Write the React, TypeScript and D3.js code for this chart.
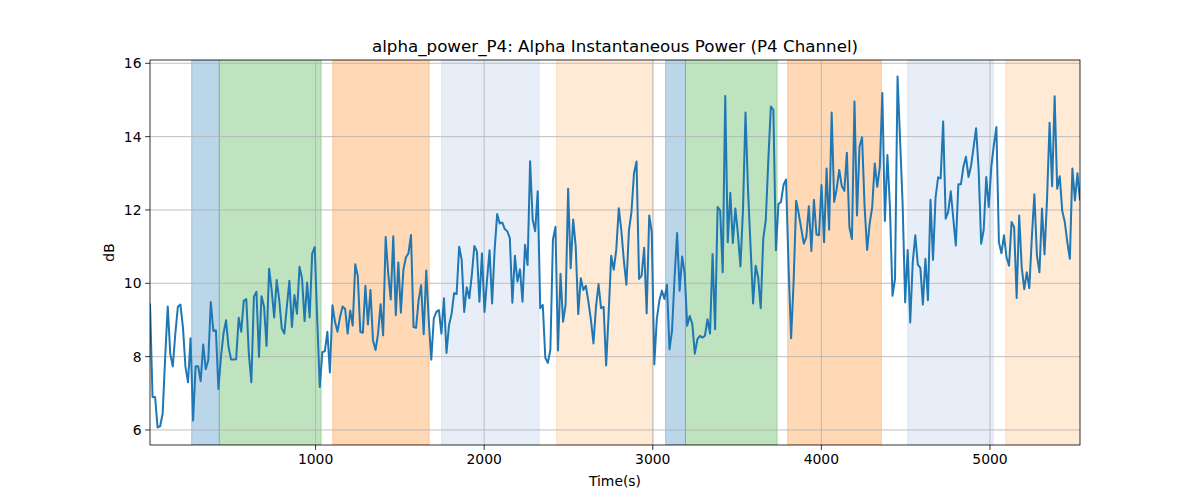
import * as d3 from "d3";

// alpha power samples (dB), evenly spaced over the recording
const alphaPower: number[] = [
  // ~18 - 700 s
  9.45, 6.9, 6.9, 6.07, 6.1, 6.45, 8.0, 9.37, 8.08, 7.73, 8.63, 9.36, 9.42, 8.8, 7.72, 7.3,
  8.5, 6.26, 7.74, 7.74, 7.33, 8.33, 7.66, 7.9, 9.49, 8.7, 8.72, 7.12, 7.99, 8.63, 8.99, 8.26,
  7.92, 7.92, 7.93, 9.06, 8.68, 9.52, 9.57, 8.08, 7.3, 9.63, 9.77, 7.99, 9.65, 9.37,
  // ~700 - 1380 s
  8.29, 10.4, 9.82, 9.07, 10.09, 9.54, 8.77, 8.63, 9.36, 10.07, 8.81, 9.68, 9.17, 10.45, 10.13, 8.97,
  10.02, 9.07, 10.81, 10.99, 9.0, 7.17, 8.12, 8.15, 8.68, 7.57, 9.4, 8.95, 8.68, 9.08, 9.37, 9.3,
  8.63, 9.26, 8.85, 10.52, 10.2, 8.67, 8.65, 9.93, 8.88, 9.82, 8.45, 8.18, 8.63, 9.43,
  // ~1390 - 2070 s
  8.58, 11.26, 10.27, 9.56, 11.28, 9.13, 10.57, 9.2, 10.37, 10.71, 10.82, 11.32, 8.81, 8.79, 9.54, 9.95,
  8.61, 10.35, 9.0, 7.92, 9.04, 9.22, 9.27, 8.63, 9.59, 8.1, 8.86, 9.16, 9.73, 9.71, 11.0, 10.64,
  9.22, 9.89, 9.59, 10.23, 11.02, 10.87, 9.5, 10.82, 9.22, 10.09, 10.9, 9.45, 10.91, 11.89,
  // ~2080 - 2780 s
  11.63, 11.66, 11.48, 11.42, 11.23, 9.47, 10.75, 10.05, 10.38, 9.5, 11.05, 10.5, 13.33, 11.74, 11.42, 12.51,
  9.32, 9.41, 7.97, 7.83, 8.19, 11.19, 11.54, 8.17, 10.26, 8.95, 9.41, 12.58, 10.41, 11.74, 11.0, 9.16,
  10.14, 9.82, 9.93, 9.5, 9.0, 8.36, 9.36, 9.98, 9.32, 9.36, 7.76, 9.18, 10.75, 10.37, 10.91, 12.05,
  // ~2800 - 3480 s
  11.44, 10.62, 9.96, 11.44, 11.95, 13.0, 13.32, 10.12, 10.21, 10.97, 9.18, 11.85, 11.4, 7.79, 9.02, 9.53,
  9.8, 9.57, 9.96, 8.2, 8.7, 10.16, 11.37, 9.8, 10.73, 10.26, 8.84, 9.11, 8.89, 8.08, 8.47, 8.57,
  8.52, 8.57, 9.02, 8.63, 10.8, 8.75, 12.08, 11.99, 10.3, 15.11, 11.12, 12.47, 11.1, 12.04,
  // ~3490 - 4170 s
  11.35, 10.46, 11.99, 14.66, 12.54, 10.99, 9.45, 10.48, 10.16, 9.32, 11.21, 11.72, 13.36, 14.82, 14.73, 10.9,
  12.16, 12.22, 12.68, 12.83, 10.44, 8.5, 10.07, 12.25, 11.9, 11.49, 11.08, 11.26, 12.1, 10.88, 12.28, 11.33,
  11.31, 12.68, 11.12, 13.13, 11.46, 14.66, 12.22, 12.58, 13.09, 12.65, 12.52, 13.56, 11.53, 11.21,
  // ~4190 - 4860 s
  14.96, 11.85, 13.73, 13.98, 12.08, 10.91, 11.63, 12.08, 13.27, 12.63, 13.18, 15.19, 11.7, 13.5, 12.08, 9.66,
  10.12, 15.64, 13.91, 12.17, 9.48, 10.91, 8.93, 10.58, 11.31, 10.51, 10.42, 9.42, 10.67, 9.54, 12.28, 10.64,
  12.34, 12.89, 12.86, 14.41, 11.76, 11.95, 12.51, 11.76, 11.03, 12.7, 12.7, 13.18, 13.45, 12.9,
  // ~4880 - 5534 s
  13.2, 13.71, 14.23, 13.09, 11.08, 11.46, 12.9, 12.08, 13.18, 13.77, 14.26, 11.12, 10.82, 11.31, 10.71, 10.48,
  11.67, 11.53, 9.6, 11.85, 10.44, 9.84, 10.3, 9.87, 11.26, 12.43, 10.76, 10.3, 12.04, 10.79, 12.31, 14.38,
  12.65, 15.1, 12.58, 12.92, 11.97, 11.67, 11.12, 10.67, 13.13, 12.26, 13.0, 12.26,
];

const T_START = 18;
const T_END = 5534;

// shaded condition periods (s)
const bandStarts = [265, 429, 1102, 1747, 2429, 3076, 3194, 3800, 4512, 5093];
const bandEnds = [429, 1033, 1674, 2326, 3005, 3194, 3738, 4356, 5020, 5600];
const bandKinds = ["a", "b", "c", "d", "e", "a", "b", "c", "d", "e"];

const xTicks = [1000, 2000, 3000, 4000, 5000];
const yTicks = [6, 8, 10, 12, 14, 16];

const kindColor: Record<string, string> = {
  a: "#1f77b4",
  b: "#2ca02c",
  c: "#ff7f0e",
  d: "#aec7e8",
  e: "#ffbb78",
};

const W = 1200;
const H = 500;
const M = { left: 150, right: 1080, top: 60, bottom: 445 };
const FONT = "DejaVu Sans, sans-serif";

export default function App() {
  const x = d3.scaleLinear().domain([T_START, T_END]).range([M.left, M.right]);
  const y = d3.scaleLinear().domain([5.59, 16.09]).range([M.bottom, M.top]);

  const n = alphaPower.length;
  const pts: [number, number][] = alphaPower.map((v, i) => [
    T_START + (i * (T_END - T_START)) / (n - 1),
    v,
  ]);

  const line = d3
    .line<[number, number]>()
    .x((d) => x(d[0]))
    .y((d) => y(d[1]));

  return (
    <div style={{ position: "absolute", left: 0, top: 0 }}>
      <svg width={W} height={H} style={{ display: "block", background: "#fff" }} fontFamily={FONT}>
        <defs>
          <clipPath id="plot">
            <rect x={M.left} y={M.top} width={M.right - M.left} height={M.bottom - M.top} />
          </clipPath>
        </defs>

        {/* bands */}
        <g clipPath="url(#plot)">
          {bandStarts.map((s, i) => (
            <rect
              key={i}
              x={x(s)}
              y={M.top}
              width={x(bandEnds[i]) - x(s)}
              height={M.bottom - M.top}
              fill={kindColor[bandKinds[i]]}
              fillOpacity={0.3}
              stroke={kindColor[bandKinds[i]]}
              strokeOpacity={0.3}
              strokeWidth={1}
            />
          ))}
        </g>

        {/* grid */}
        <g stroke="#b0b0b0" strokeWidth={0.8}>
          {xTicks.map((t) => (
            <line key={t} x1={x(t)} x2={x(t)} y1={M.top} y2={M.bottom} />
          ))}
          {yTicks.map((t) => (
            <line key={t} x1={M.left} x2={M.right} y1={y(t)} y2={y(t)} />
          ))}
        </g>

        {/* data */}
        <path
          d={line(pts) ?? ""}
          fill="none"
          stroke="#1f77b4"
          strokeWidth={2}
          strokeLinejoin="round"
          clipPath="url(#plot)"
        />

        {/* axes frame */}
        <rect
          x={M.left}
          y={M.top}
          width={M.right - M.left}
          height={M.bottom - M.top}
          fill="none"
          stroke="#000"
          strokeWidth={0.8}
        />

        {/* x ticks */}
        {xTicks.map((t) => (
          <g key={t} transform={`translate(${x(t)},${M.bottom})`}>
            <line y2={4.9} stroke="#000" strokeWidth={0.8} />
            <text y={18.5} textAnchor="middle" fontSize={13.9} fill="#000">
              {t}
            </text>
          </g>
        ))}

        {/* y ticks */}
        {yTicks.map((t) => (
          <g key={t} transform={`translate(${M.left},${y(t)})`}>
            <line x2={-4.9} stroke="#000" strokeWidth={0.8} />
            <text x={-8.5} dy="0.35em" textAnchor="end" fontSize={13.9} fill="#000">
              {t}
            </text>
          </g>
        ))}

        <text x={(M.left + M.right) / 2} y={52} textAnchor="middle" fontSize={16.7} fill="#000">
          alpha_power_P4: Alpha Instantaneous Power (P4 Channel)
        </text>
        <text x={(M.left + M.right) / 2} y={486} textAnchor="middle" fontSize={13.9} fill="#000">
          Time(s)
        </text>
        <text
          transform={`translate(114,${(M.top + M.bottom) / 2}) rotate(-90)`}
          textAnchor="middle"
          fontSize={13.9}
          fill="#000"
        >
          dB
        </text>
      </svg>
    </div>
  );
}
